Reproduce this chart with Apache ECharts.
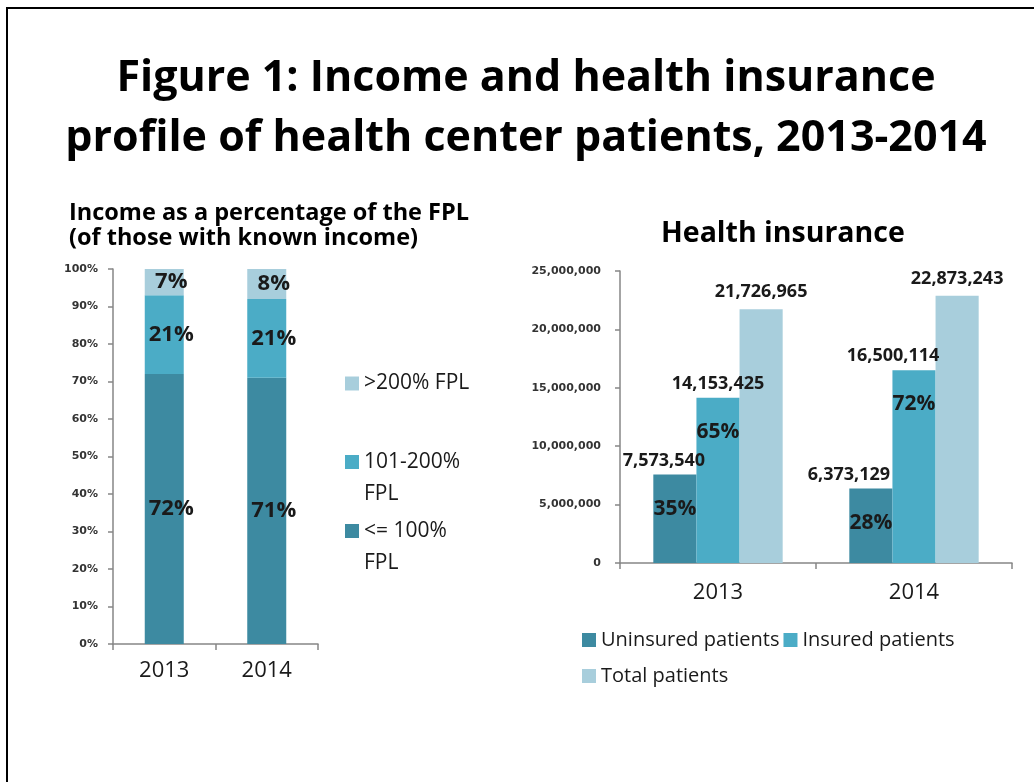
<!DOCTYPE html>
<html>
<head>
<meta charset="utf-8">
<script src="https://cdn.jsdelivr.net/npm/echarts@6/dist/echarts.min.js"></script>
<style>
html,body{margin:0;padding:0;background:#fff;}
#frame{position:absolute;left:6px;top:7px;width:1028px;height:775px;border-top:2px solid #000;border-left:2px solid #000;}
#chart{position:absolute;left:0;top:0;width:1034px;height:782px;}
</style>
</head>
<body>
<div id="frame"></div>
<div id="chart"></div>
<script>
// ---- data ----
const years = ['2013', '2014'];
const fplLowName = '<= 100% FPL';
const fplMidName = '101-200% FPL';
const fplHighName = '>200% FPL';
const fplLow = [72, 71];
const fplMid = [21, 21];
const fplHigh = [7, 8];
const pctTicks = ['0%', '10%', '20%', '30%', '40%', '50%', '60%', '70%', '80%', '90%', '100%'];

const uninsuredName = 'Uninsured patients';
const insuredName = 'Insured patients';
const totalName = 'Total patients';
const uninsured = [7573540, 6373129];
const insured = [14153425, 16500114];
const total = [21726965, 22873243];
const uninsuredPct = [35, 28];
const insuredPct = [65, 72];

// ---- styling ----
const cDark = '#3d8aa1';
const cMid = '#4bacc6';
const cLight = '#a8cedc';
const txt = '#1a1a1a';
const axisCol = '#868686';
const F = '"Open Sans", Lato, sans-serif';
const FA = '"DejaVu Sans", sans-serif';

const fmt = v => v.toLocaleString('en-US');

function pctLabelSeries(name, data, color) {
  return {
    name: name, type: 'bar', stack: 'fpl', xAxisIndex: 0, yAxisIndex: 0,
    data: data, barWidth: 39, itemStyle: { color: color },
    label: { show: true, position: 'inside', offset: [7, 0], formatter: p => p.value + '%',
      color: txt, fontFamily: F, fontSize: 22, fontWeight: 'bold' }
  };
}

// label shifts (style only): right padding of the value line per category
function insLabel(pcts, shifts) {
  const rich = {
    g: { fontSize: 10, lineHeight: 26 },
    p: { fontFamily: F, fontSize: 21, fontWeight: 'bold', color: txt, lineHeight: 22 }
  };
  shifts.forEach((s, i) => {
    rich['v' + i] = { fontFamily: F, fontSize: 18, fontWeight: 'bold', color: txt, lineHeight: 22,
      padding: [0, s, 0, 0] };
  });
  return {
    show: true, position: 'insideTop', distance: 0, offset: [0, -25],
    formatter: p => '{v' + p.dataIndex + '|' + fmt(p.value) + '}\n{g| }\n{p|' + pcts[p.dataIndex] + '%}',
    rich: rich
  };
}

const legendBase = { orient: 'vertical', selectedMode: false, itemWidth: 14, itemHeight: 14,
  icon: 'rect', itemGap: 8, itemStyle: { borderWidth: 0 } };

const chart = echarts.init(document.getElementById('chart'), null, { renderer: 'canvas' });
chart.setOption({
  animation: false,
  backgroundColor: 'transparent',
  title: [
    { text: 'Figure 1: Income and health insurance\nprofile of health center patients, 2013-2014',
      left: 521, top: 44, textAlign: 'center',
      textStyle: { fontFamily: F, fontSize: 43, fontWeight: 'bold', color: '#000', lineHeight: 60 } },
    { text: 'Income as a percentage of the FPL\n(of those with known income)',
      left: 64, top: 196,
      textStyle: { fontFamily: F, fontSize: 23.5, fontWeight: 'bold', color: '#000', lineHeight: 25 } },
    { text: 'Health insurance', left: 656, top: 214,
      textStyle: { fontFamily: F, fontSize: 28.5, fontWeight: 'bold', color: '#000' } }
  ],
  legend: [
    Object.assign({ data: [fplHighName], left: 340, top: 368,
      textStyle: { fontFamily: F, fontSize: 21, color: txt } }, legendBase),
    Object.assign({ data: [fplMidName], left: 340, top: 409,
      formatter: () => ' \n101-200%\nFPL',
      textStyle: { fontFamily: F, fontSize: 21, color: txt, lineHeight: 32 } }, legendBase),
    Object.assign({ data: [fplLowName], left: 340, top: 478,
      formatter: () => ' \n<= 100%\nFPL',
      textStyle: { fontFamily: F, fontSize: 21, color: txt, lineHeight: 32 } }, legendBase),
    { data: [uninsuredName, insuredName], left: 577, top: 625, selectedMode: false,
      itemWidth: 14, itemHeight: 14, icon: 'rect', itemGap: 4, itemStyle: { borderWidth: 0 },
      textStyle: { fontFamily: F, fontSize: 20, color: txt } },
    { data: [totalName], left: 577, top: 661, selectedMode: false,
      itemWidth: 14, itemHeight: 14, icon: 'rect', itemGap: 4, itemStyle: { borderWidth: 0 },
      textStyle: { fontFamily: F, fontSize: 20, color: txt } }
  ],
  grid: [
    { left: 113, top: 269, width: 205, height: 375, containLabel: false },
    { left: 620, top: 271, width: 392, height: 292, containLabel: false }
  ],
  xAxis: [
    { type: 'category', gridIndex: 0, data: years,
      axisLine: { lineStyle: { color: axisCol, width: 1.5 } },
      axisTick: { show: true, length: 6, lineStyle: { color: axisCol, width: 1.5 } },
      axisLabel: { fontFamily: F, fontSize: 22, color: txt, margin: 16 } },
    { type: 'category', gridIndex: 1, data: years,
      axisLine: { lineStyle: { color: axisCol, width: 1.5 } },
      axisTick: { show: true, length: 6, lineStyle: { color: axisCol, width: 1.5 } },
      axisLabel: { fontFamily: F, fontSize: 22, color: txt, margin: 19 } }
  ],
  yAxis: [
    { type: 'value', gridIndex: 0, min: 0, max: 100, interval: 10,
      axisLine: { show: true, lineStyle: { color: axisCol, width: 1.5 } },
      axisTick: { show: true, length: 5, lineStyle: { color: axisCol, width: 1.5 } },
      splitLine: { show: false },
      axisLabel: { formatter: v => pctTicks[Math.round(v / 10)], fontFamily: FA, fontSize: 11,
        fontWeight: 'bold', color: '#333', margin: 15 } },
    { type: 'value', gridIndex: 1, min: 0, max: 25000000, interval: 5000000,
      axisLine: { show: true, lineStyle: { color: axisCol, width: 1.5 } },
      axisTick: { show: true, length: 5, lineStyle: { color: axisCol, width: 1.5 } },
      splitLine: { show: false },
      axisLabel: { formatter: v => fmt(v), fontFamily: FA, fontSize: 11,
        fontWeight: 'bold', color: '#333', margin: 19 } }
  ],
  series: [
    pctLabelSeries(fplLowName, fplLow, cDark),
    pctLabelSeries(fplMidName, fplMid, cMid),
    pctLabelSeries(fplHighName, fplHigh, cLight),
    { name: uninsuredName, type: 'bar', xAxisIndex: 1, yAxisIndex: 1, data: uninsured,
      itemStyle: { color: cDark }, barGap: '0%', barCategoryGap: '34%',
      label: insLabel(uninsuredPct, [22, 44]) },
    { name: insuredName, type: 'bar', xAxisIndex: 1, yAxisIndex: 1, data: insured,
      itemStyle: { color: cMid }, barGap: '0%', barCategoryGap: '34%',
      label: insLabel(insuredPct, [0, 42]) },
    { name: totalName, type: 'bar', xAxisIndex: 1, yAxisIndex: 1, data: total,
      itemStyle: { color: cLight }, barGap: '0%', barCategoryGap: '34%',
      label: { show: true, position: 'top', distance: 8, formatter: p => fmt(p.value),
        fontFamily: F, fontSize: 18, fontWeight: 'bold', color: txt } }
  ]
});
</script>
</body>
</html>
